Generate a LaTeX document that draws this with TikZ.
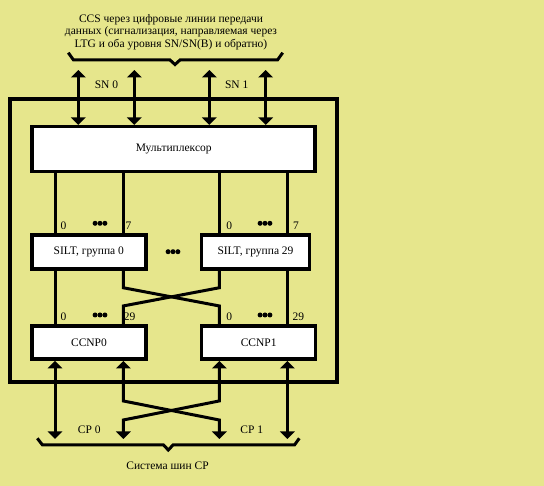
\documentclass[tikz,border=0pt]{standalone}
\usepackage{fontspec}
\setmainfont{Liberation Serif}
\usetikzlibrary{arrows.meta,positioning,calc}
\definecolor{paper}{RGB}{230,230,140}
\tikzset{
	txt/.style = {font=\fontsize{11.5}{12.5}\selectfont, inner sep=0pt, align=center},
	unit/.style = {txt, rectangle, draw=black, fill=white, line width=3.5pt},
	unit_mux/.style = {unit, minimum width=283pt, minimum height=45pt},
	unit_silt/.style = {unit, minimum height=34pt},
	unit_ccnp/.style = {unit, minimum width=114pt, minimum height=33pt},
	pin/.style = {txt},
	bus/.style = {line width=3pt},
	dotrow/.pic = {\foreach \k in {-1,0,1} \fill (\k*4.9,0) circle (2.5);}
}
\begin{document}
\begin{tikzpicture}[x=1pt, y=-1pt, >={Triangle[width=14.5pt,length=7.5pt]}]
\fill [paper] (0,0) rectangle (544,486);
\useasboundingbox (0,0) rectangle (544,486);

% signalling to the switching network
\node [txt] (ccs) at (171,32) {CCS через цифровые линии передачи\\данных (сигнализация, направляемая через\\LTG и оба уровня SN/SN(B) и обратно)};
\draw [bus] (68.3,52.7) -- (73.5,60) -- (170,60) -- (175,64.5) -- (180,60) -- (277.5,60) -- (282.7,52.7);

% frame
\draw [line width=4pt] (10,99.3) rectangle (337.2,381.7);

\node [unit_mux] (mux) at (173.7,149.2) {Мультиплексор};
\node [unit_silt, minimum width=114pt] (silt0) at (88.8,252) {SILT, группа 0};
\node [unit_silt, minimum width=108pt] (silt29) at (255.5,252) {SILT, группа 29};
\node [unit_ccnp] (ccnp0) at (89,342.7) {CCNP0};
\node [unit_ccnp] (ccnp1) at (258.7,342.7) {CCNP1};

\foreach \n/\x in {c1/55, c2/123.3, c3/219.3, c4/287.3}
	\coordinate (\n) at (\x,0);

% SN links
\foreach \n/\x in {sn0a/78.3, sn0b/134.3, sn1a/209.3, sn1b/265.7}
	\coordinate (\n) at (\x,70);
\foreach \n in {sn0a,sn0b,sn1a,sn1b}
	\draw [bus,<->] (\n) -- (\n |- mux.north);
\node [txt] (sn0) at (106.5,85) {SN 0};
\node [txt] (sn1) at (236.7,85) {SN 1};

% multiplexer - SILT
\foreach \c/\b in {c1/silt0, c2/silt0, c3/silt29, c4/silt29}
	\draw [bus] (mux.south -| \c) -- (\b.north -| \c);

% SILT - CCNP
\draw [bus] (silt0.south -| c1) -- (ccnp0.north -| c1);
\draw [bus] (silt29.south -| c4) -- (ccnp1.north -| c4);
\draw [bus] (silt0.south -| c2) -- ++(0,17) -- ($(ccnp1.north -| c3)+(0,-18.5)$) -- (ccnp1.north -| c3);
\draw [bus] (silt29.south -| c3) -- ++(0,17) -- ($(ccnp0.north -| c2)+(0,-18.5)$) -- (ccnp0.north -| c2);

\foreach \t/\x/\y [count=\i] in {0/63.5/226, 7/128.5/226, 0/229.3/226, 7/296/226,
	0/63.5/316.5, 29/129.7/316.5, 0/229.3/316.5, 29/298.3/316.5}
	\node [pin] (pin\i) at (\x,\y) {\t};
\foreach \x/\y in {100/223.3, 265/223.3, 173/251.7, 100/315, 265/315}
	\pic at (\x,\y) {dotrow};

% CP bus
\foreach \n/\x in {cp0a/55, cp0b/123.3, cp1a/219.3, cp1b/287.3}
	\coordinate (\n) at (\x,439);
\draw [bus,<->] (ccnp0.south -| c1) -- (cp0a);
\draw [bus,<->] (ccnp1.south -| c4) -- (cp1b);
\draw [bus,<->] (ccnp0.south -| c2) -- ++(0,40) -- ($(cp1a)+(0,-19)$) -- (cp1a);
\draw [bus,<->] (ccnp1.south -| c3) -- ++(0,40) -- ($(cp0b)+(0,-19)$) -- (cp0b);
\node [txt] (cp0) at (89.3,429.3) {CP 0};
\node [txt] (cp1) at (251.7,429.3) {CP 1};
\draw [bus] (37.3,438.3) -- (42.5,445) -- (163.5,445) -- (168.3,450) -- (173,445) -- (294.5,445) -- (299.3,438.3);
\node [txt] (cpbus) at (167.5,466) {Система шин CP};
\end{tikzpicture}
\end{document}
